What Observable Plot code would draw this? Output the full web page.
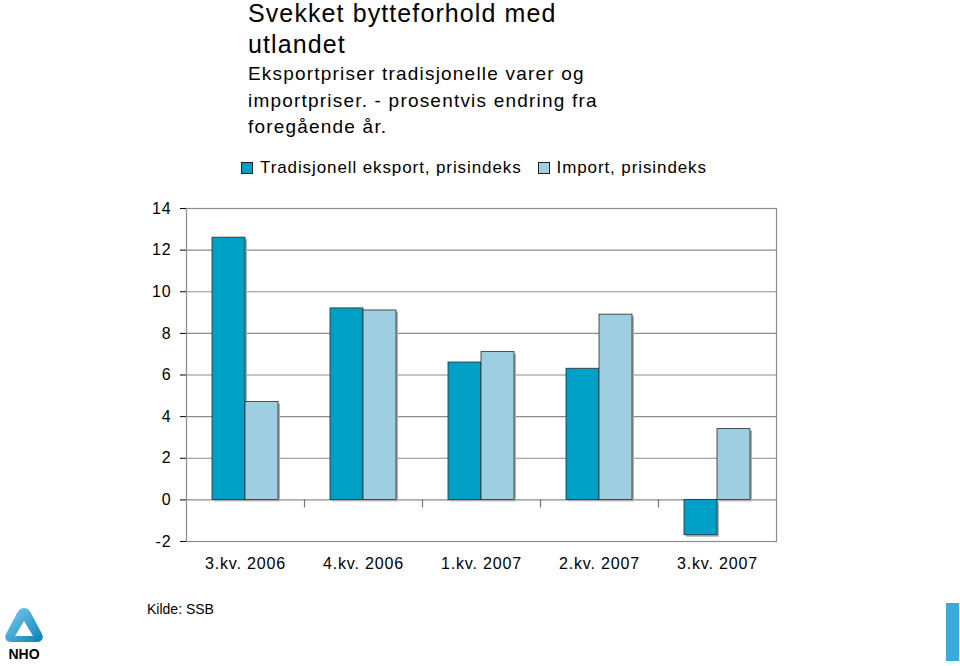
<!DOCTYPE html>
<html><head><meta charset="utf-8">
<script src="https://cdn.jsdelivr.net/npm/d3@7"></script>
<script src="https://cdn.jsdelivr.net/npm/@observablehq/plot@0.6"></script>
<style>
body{margin:0;background:#fff;font-family:"Liberation Sans",Arial,sans-serif;color:#000;}
#wrap{position:relative;width:960px;height:666px;overflow:hidden;background:#fff;}
#chart{position:absolute;left:0;top:0;}
#title{position:absolute;left:248px;top:-2px;font-size:25px;line-height:31px;letter-spacing:1.1px;}
#subtitle{position:absolute;left:248px;top:61px;font-size:19px;line-height:26.5px;letter-spacing:1.2px;}
#legend{position:absolute;left:241px;top:157px;font-size:17px;line-height:22px;display:flex;align-items:center;white-space:nowrap;letter-spacing:0.9px;}
#legend .sw{display:inline-block;width:10px;height:10px;border:1px solid #222;margin-right:7px;}
#legend .item{display:flex;align-items:center;margin-right:16px;}
#source{position:absolute;left:147px;top:601px;font-size:14px;}
#bluebar{position:absolute;left:946px;top:603px;width:13px;height:58px;background:#3aa9dc;}
#logo{position:absolute;left:2px;top:604px;}
</style></head><body>
<div id="wrap">
  <div id="title">Svekket bytteforhold med<br>utlandet</div>
  <div id="subtitle">Eksportpriser tradisjonelle varer og<br>importpriser. - prosentvis endring fra<br>foregående år.</div>
  <div id="legend"></div>
  <div id="chart"></div>
  <div id="source">Kilde: SSB</div>
  <svg id="logo" width="46" height="60" viewBox="0 0 46 60">
    <defs><linearGradient id="lg" x1="0" y1="0" x2="1" y2="1"><stop offset="0" stop-color="#7fd0ef"/><stop offset="1" stop-color="#0a7fb8"/></linearGradient></defs>
    <path d="M22 4 C26 4 28 7 30 11 L40 30 C42 34 40 38 35 38 L9 38 C4 38 2 34 4 30 L14 11 C16 7 18 4 22 4 Z M22 17 L13 32 L31 32 Z" fill="url(#lg)" fill-rule="evenodd"/>
    <text x="22" y="55" text-anchor="middle" font-family="Liberation Sans, Arial" font-weight="bold" font-size="14" fill="#000">NHO</text>
  </svg>
  <div id="bluebar"></div>
</div>
<script>
const categories = ["3.kv. 2006", "4.kv. 2006", "1.kv. 2007", "2.kv. 2007", "3.kv. 2007"];
const seriesNames = ["Tradisjonell eksport, prisindeks", "Import, prisindeks"];
const exportValues = [12.6, 9.2, 6.6, 6.3, -1.7];
const importValues = [4.7, 9.1, 7.1, 8.9, 3.4];
const yTicks = [-2, 0, 2, 4, 6, 8, 10, 12, 14];
const seriesColors = ["#00a0c6", "#9ecfe1"];

const data = categories.flatMap((c, i) => [
  {cat: c, series: seriesNames[0], value: exportValues[i]},
  {cat: c, series: seriesNames[1], value: importValues[i]}
]);

// legend
const legend = document.getElementById("legend");
seriesNames.forEach((s, i) => {
  const item = document.createElement("span");
  item.className = "item";
  item.innerHTML = `<span class="sw" style="background:${seriesColors[i]}"></span>${s}`;
  legend.appendChild(item);
});

const chart = Plot.plot({
  width: 960,
  height: 666,
  marginTop: 208,
  marginBottom: 125,
  marginLeft: 185,
  marginRight: 183,
  style: {fontFamily: "'Liberation Sans', Arial, sans-serif", fontSize: "16px", letterSpacing: "0.85px", color: "#000", background: "transparent", overflow: "visible"},
  fx: {domain: categories, padding: 0, axis: "bottom", tickSize: 0, tickPadding: 16, label: null},
  x: {domain: seriesNames, paddingInner: 0, paddingOuter: 0.74, axis: null},
  y: {domain: [-2, 14], ticks: yTicks, tickSize: 6, tickPadding: 9, label: null, tickFormat: d => String(d)},
  color: {domain: seriesNames, range: seriesColors},
  marks: [
    Plot.ruleY(yTicks, {stroke: "#8c8c8c", strokeWidth: 1.2}),
    Plot.frame({facet: "super", stroke: "#8c8c8c", strokeWidth: 1.2}),
    Plot.vector(categories.slice(1), {
      fx: d => d, y: () => 0, frameAnchor: "left", length: 7, rotate: 180, anchor: "start",
      stroke: "#777", strokeWidth: 1.2,
      shape: {draw(context, l) { context.moveTo(0, 0); context.lineTo(0, -l); }}
    }),
    Plot.barY(data, {fx: "cat", x: "series", y: "value", fill: "#b0b0b0", dx: 2, dy: 2}),
    Plot.barY(data, {fx: "cat", x: "series", y: "value", fill: "series", stroke: "#2a2a2a", strokeWidth: 0.8})
  ]
});
document.getElementById("chart").appendChild(chart);
</script>
</body></html>
